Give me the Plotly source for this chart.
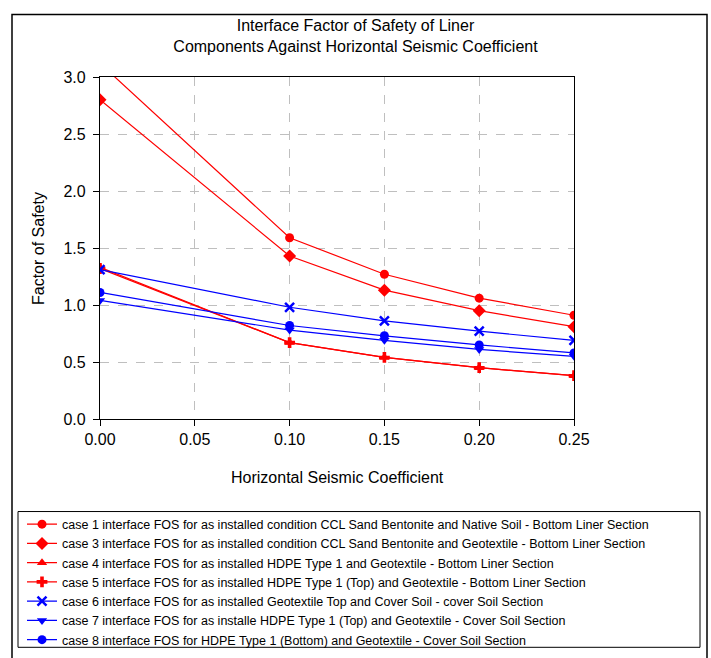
import plotly.graph_objects as go

x_vals = [0.00, 0.10, 0.15, 0.20, 0.25]

case1 = [3.12, 1.59, 1.27, 1.06, 0.91]
case3 = [2.80, 1.43, 1.13, 0.95, 0.81]
case4 = [1.33, 0.67, 0.54, 0.45, 0.38]
case5 = [1.32, 0.67, 0.54, 0.45, 0.38]
case6 = [1.31, 0.98, 0.86, 0.77, 0.69]
case7 = [1.04, 0.78, 0.69, 0.61, 0.55]
case8 = [1.11, 0.82, 0.73, 0.65, 0.58]

names = [
    "case 1 interface FOS for as installed condition CCL Sand Bentonite and Native Soil - Bottom Liner Section",
    "case 3 interface FOS for as installed condition CCL Sand Bentonite and Geotextile - Bottom Liner Section",
    "case 4 interface FOS for as installed HDPE Type 1 and Geotextile - Bottom Liner Section",
    "case 5 interface FOS for as installed HDPE Type 1 (Top) and Geotextile - Bottom Liner Section",
    "case 6 interface FOS for as installed Geotextile Top and Cover Soil - cover Soil Section",
    "case 7 interface FOS for as installe HDPE Type 1 (Top) and Geotextile - Cover Soil Section",
    "case 8 interface FOS for HDPE Type 1 (Bottom) and Geotextile - Cover Soil Section",
]

series = [case1, case3, case4, case5, case6, case7, case8]
colors = ["#FF0000"] * 4 + ["#0000FF"] * 3
symbols = ["circle", "diamond", "triangle-up", "cross", "x-thin", "triangle-down", "circle"]
sizes = [9, 10, 9, 9, 9, 9, 9]

fig = go.Figure()
for ys, nm, c, s, sz in zip(series, names, colors, symbols, sizes):
    mk = dict(symbol=s, size=sz, color=c)
    if s == "x-thin":
        mk["line"] = dict(color=c, width=2.5)
    fig.add_trace(go.Scatter(
        x=x_vals, y=ys, name=nm, mode="lines+markers",
        line=dict(color=c, width=1.2), marker=mk,
    ))

W, H = 711, 658
L, R, T, B = 100, 574, 76.7, 419.3
pw, ph = R - L, B - T

def px(xp):
    return (xp - L) / pw

def py(yp):
    return (B - yp) / ph

fig.update_layout(
    width=W, height=H,
    margin=dict(l=L, r=W - R, t=T, b=H - B, pad=0, autoexpand=False),
    paper_bgcolor="white", plot_bgcolor="white",
    font=dict(family="Liberation Sans, Arial, sans-serif", color="black", size=16),
    title=dict(
        text="Interface Factor of Safety of Liner<br>Components Against Horizontal Seismic Coefficient",
        x=0.5, xref="container", xanchor="center",
        y=1 - 31 / H, yref="container", yanchor="middle",
        font=dict(size=16),
    ),
    showlegend=True,
    legend=dict(
        x=px(22), y=py(510), xanchor="left", yanchor="top",
        xref="paper", yref="paper",
        font=dict(size=12.5), bgcolor="rgba(0,0,0,0)", borderwidth=0,
        tracegroupgap=0, itemwidth=30,
    ),
    xaxis=dict(
        range=[0, 0.25], tickvals=[0, 0.05, 0.10, 0.15, 0.20, 0.25],
        tickformat=".2f", showgrid=True, gridcolor="#BFBFBF", griddash="dash",
        gridwidth=1, showline=True, linecolor="black", linewidth=1.2, mirror=True,
        ticks="outside", ticklen=6, tickcolor="black", zeroline=False,
    ),
    yaxis=dict(
        range=[0, 3.0], tickvals=[0, 0.5, 1.0, 1.5, 2.0, 2.5, 3.0],
        tickformat=".1f", showgrid=True, gridcolor="#BFBFBF", griddash="dash",
        gridwidth=1, showline=True, linecolor="black", linewidth=1.2, mirror=True,
        ticks="outside", ticklen=6, tickcolor="black", zeroline=False,
        ticklabelstandoff=4,
    ),
    annotations=[
        dict(text="Horizontal Seismic Coefficient", xref="paper", yref="paper",
             x=px(337), y=py(478), xanchor="center", yanchor="middle",
             showarrow=False, font=dict(size=16)),
        dict(text="Factor of Safety", xref="paper", yref="paper",
             x=px(38), y=py(248), xanchor="center", yanchor="middle",
             textangle=-90, showarrow=False, font=dict(size=16)),
    ],
    shapes=[
        dict(type="rect", xref="paper", yref="paper",
             x0=px(12), x1=px(707), y0=py(670), y1=py(14),
             line=dict(color="black", width=1.5), layer="below"),
        dict(type="rect", xref="paper", yref="paper",
             x0=px(18), x1=px(700), y0=py(648), y1=py(512),
             line=dict(color="black", width=1), layer="below"),
    ],
)

fig.write_html("out.html", config={"displayModeBar": False},
               post_script="document.body.style.margin='0';")
